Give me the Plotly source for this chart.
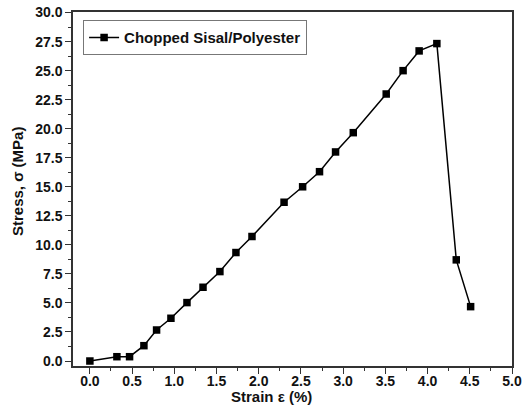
import plotly.graph_objects as go

strain = [0.0, 0.32, 0.47, 0.64, 0.79, 0.96, 1.15, 1.34, 1.54, 1.73, 1.92,
          2.30, 2.52, 2.72, 2.91, 3.12, 3.51, 3.71, 3.90, 4.11, 4.34, 4.51]
stress = [0.0, 0.37, 0.37, 1.32, 2.67, 3.68, 5.03, 6.35, 7.70, 9.34, 10.72,
          13.67, 15.0, 16.3, 18.0, 19.66, 22.99, 25.0, 26.7, 27.33, 8.71, 4.68]
series_name = "Chopped Sisal/Polyester"
x_title = "Strain ε (%)"
y_title = "Stress, σ (MPa)"

FAM = "Liberation Sans, Arial, sans-serif"

fig = go.Figure()
fig.add_trace(go.Scatter(
    x=strain, y=stress, mode="lines+markers", name=series_name,
    line=dict(color="black", width=1.5),
    marker=dict(symbol="square", size=7.5, color="black"),
))

axis_common = dict(
    showline=True, linecolor="#333", linewidth=1.5, mirror=True,
    ticks="outside", ticklen=6, tickwidth=1.2, tickcolor="#333",
    showgrid=False, zeroline=False, automargin=False,
    tickfont=dict(family=FAM, size=14, color="#111", weight="bold"),
)
title_font = dict(size=15, weight="bold", family=FAM, color="#111")
fig.update_layout(
    width=522, height=415,
    margin=dict(l=73, r=10, t=12, b=49),
    paper_bgcolor="white", plot_bgcolor="white",
    font=dict(family=FAM, color="black"),
    showlegend=True,
    legend=dict(x=0.023, y=0.977, xanchor="left", yanchor="top",
                bordercolor="#777", borderwidth=1, bgcolor="white",
                font=dict(size=15, weight="bold", family=FAM, color="#111"),
                tracegroupgap=0, itemwidth=30),
    xaxis=dict(range=[-0.2, 5.0], tick0=0, dtick=0.5, tickformat=".1f",
               ticklabelstandoff=-5,
               minor=dict(dtick=0.25, ticklen=3, ticks="outside", tickcolor="#333"),
               **axis_common),
    yaxis=dict(range=[-0.43, 30.05], tick0=0, dtick=2.5, tickformat=".1f",
               minor=dict(dtick=1.25, ticklen=3, ticks="outside", tickcolor="#333"),
               **axis_common),
    annotations=[
        dict(text=x_title, xref="paper", yref="paper", x=0.453, y=-0.085,
             xanchor="center", yanchor="middle", showarrow=False, font=title_font),
        dict(text=y_title, xref="paper", yref="paper", x=-0.125, y=0.52,
             xanchor="center", yanchor="middle", textangle=-90, showarrow=False,
             font=title_font),
    ],
)
fig.write_html("out.html", config={"displayModeBar": False},
               post_script="document.body.style.margin='0';")
